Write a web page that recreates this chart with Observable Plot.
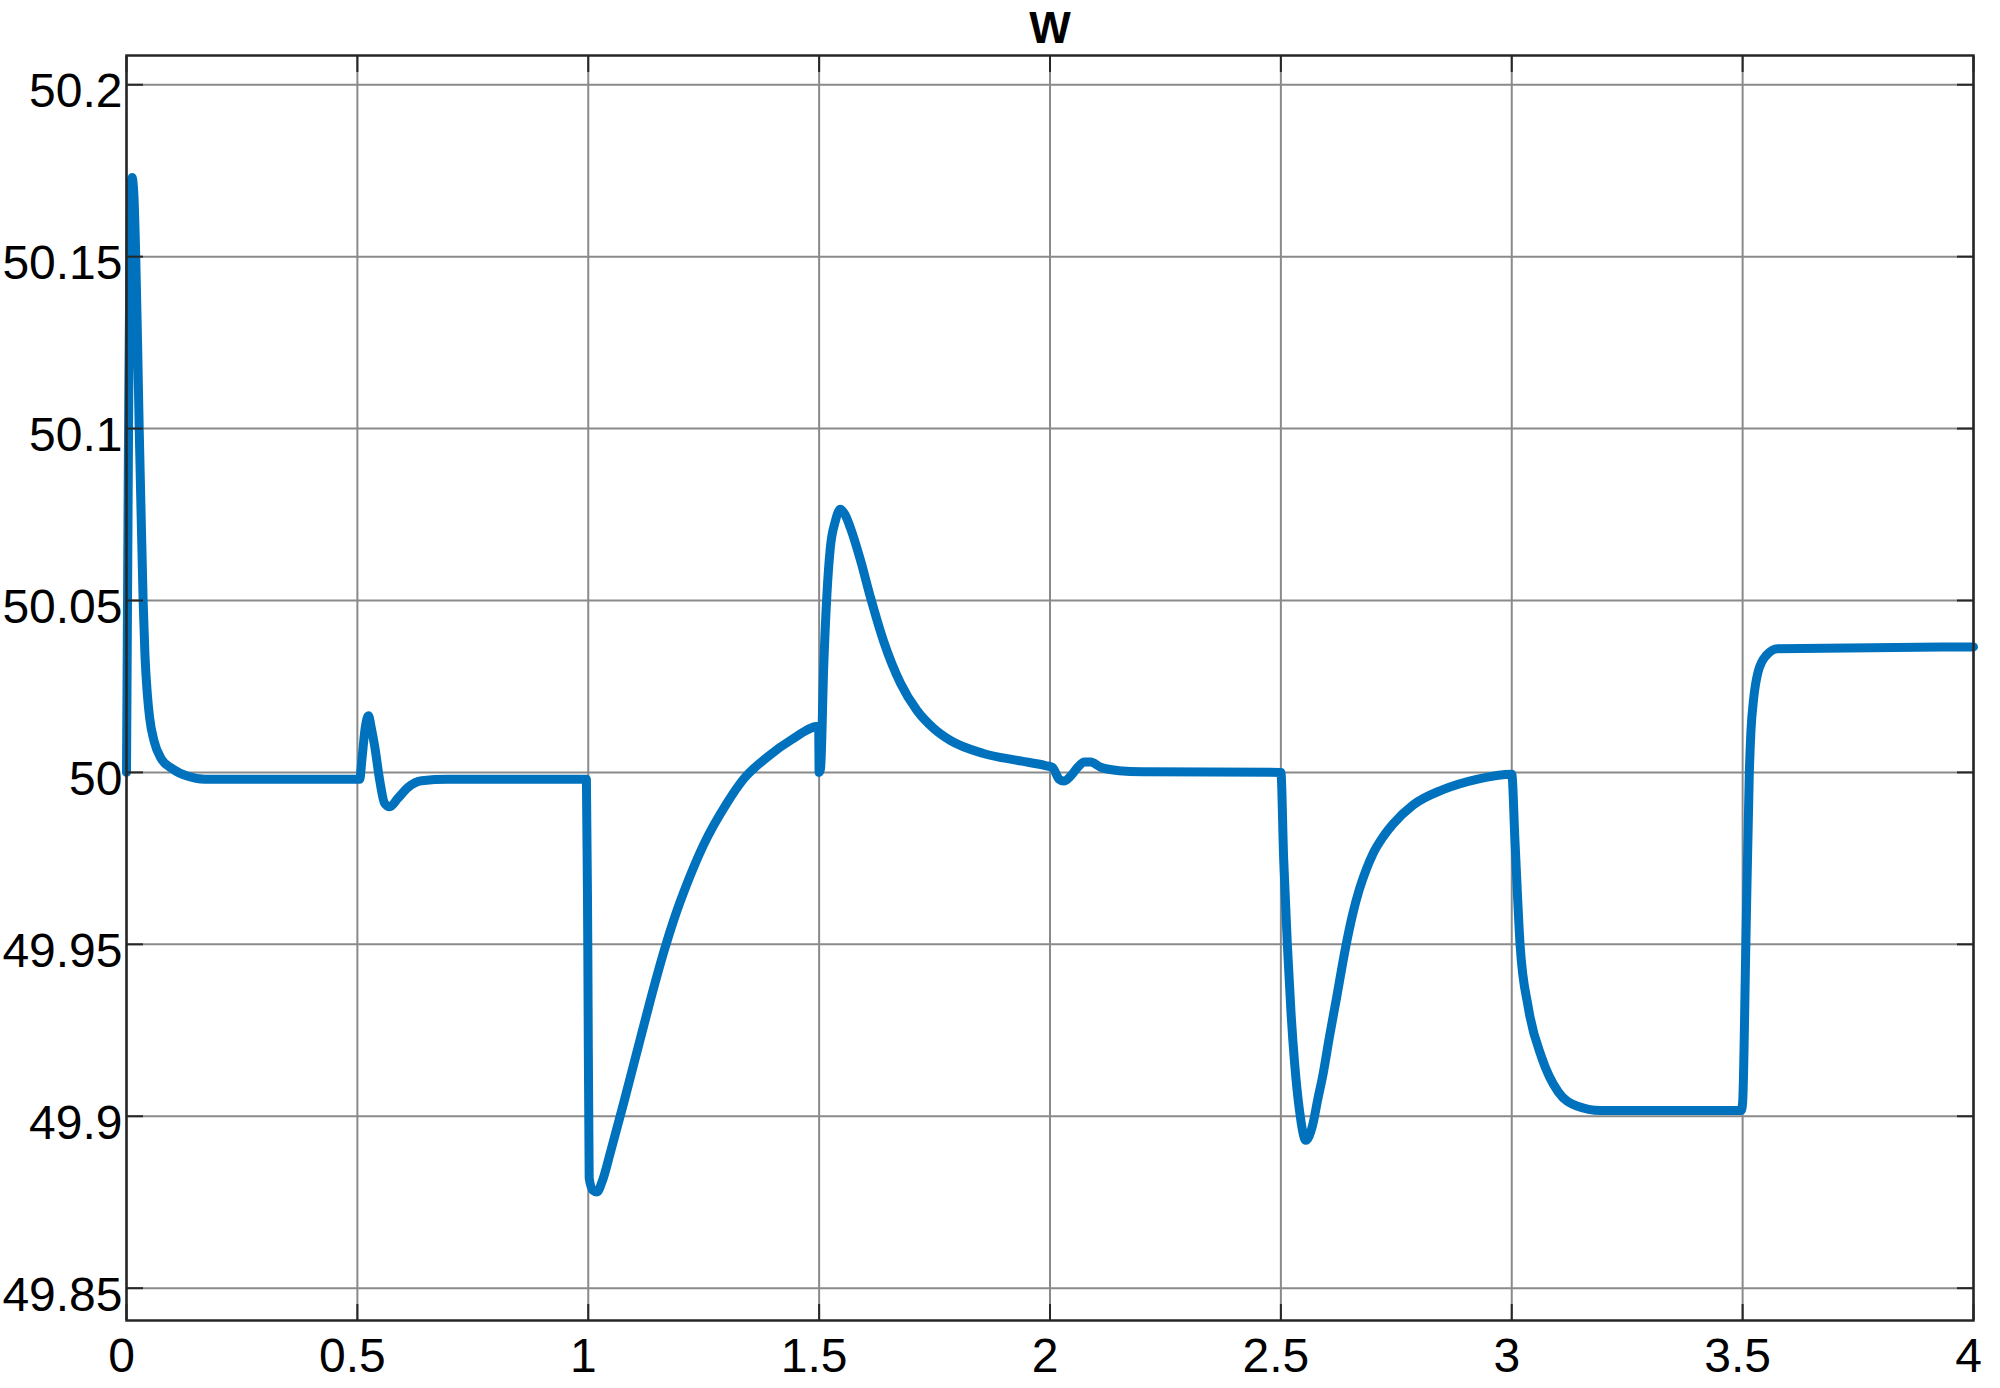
<!DOCTYPE html>
<html>
<head>
<meta charset="utf-8">
<script src="https://cdn.jsdelivr.net/npm/d3@7"></script>
<script src="https://cdn.jsdelivr.net/npm/@observablehq/plot@0.6"></script>
<style>
  html, body { margin: 0; padding: 0; background: #ffffff; }
  #chart svg { display: block; }
</style>
</head>
<body>
<div id="chart"></div>
<script>
const chartTitle = "W";
const xTicks = [0, 0.5, 1, 1.5, 2, 2.5, 3, 3.5, 4];
const yTicks = [49.85, 49.9, 49.95, 50, 50.05, 50.1, 50.15, 50.2];

const timeS = [
  0, 0.004, 0.008, 0.012, 0.016, 0.020, 0.024, 0.0275, 0.032, 0.036, 0.040, 0.045, 0.050, 0.060, 0.075, 0.100, 0.130, 0.170, 0.300,
  0.505, 0.510, 0.517, 0.524, 0.530, 0.5375, 0.548, 0.559, 0.570, 0.588, 0.610, 0.639, 0.696, 0.996,
  0.999, 1.002, 1.010, 1.019, 1.030, 1.048, 1.077, 1.106, 1.135, 1.164, 1.185, 1.215, 1.250, 1.300, 1.336, 1.388, 1.440, 1.499,
  1.500, 1.503, 1.510, 1.517, 1.524, 1.535, 1.546, 1.556, 1.568, 1.589, 1.611, 1.640, 1.676, 1.712, 1.748, 1.784, 1.856, 1.929, 1.990,
  2.005, 2.020, 2.030, 2.045, 2.060, 2.075, 2.088, 2.110, 2.150, 2.200, 2.500,
  2.506, 2.514, 2.522, 2.530, 2.540, 2.554, 2.568, 2.580, 2.591, 2.605, 2.620, 2.640, 2.655, 2.670, 2.685, 2.700, 2.720, 2.743, 2.786, 2.851, 2.924, 3.000,
  3.007, 3.018, 3.036, 3.065, 3.101, 3.141, 3.192, 3.497,
  3.500, 3.507, 3.5145, 3.518, 3.524, 3.533, 3.551, 3.576, 4.000
];
const freqHz = [
  50.000, 50.090, 50.160, 50.173, 50.168, 50.150, 50.125, 50.100, 50.073, 50.050, 50.034, 50.023, 50.016, 50.009, 50.004, 50.001, 49.999, 49.998, 49.998,
  49.998, 50.004, 50.013, 50.0165, 50.013, 50.0076, 49.998, 49.991, 49.990, 49.9925, 49.9957, 49.9976, 49.998, 49.998,
  49.950, 49.882, 49.8785, 49.878, 49.881, 49.8895, 49.904, 49.919, 49.934, 49.948, 49.957, 49.968, 49.979, 49.991, 49.998, 50.0045, 50.0095, 50.0134,
  50.000, 50.001, 50.031, 50.052, 50.065, 50.073, 50.0765, 50.075, 50.071, 50.062, 50.051, 50.038, 50.026, 50.018, 50.0128, 50.0093, 50.0055, 50.0035, 50.002,
  50.0015, 49.998, 49.9975, 49.999, 50.0015, 50.003, 50.003, 50.0015, 50.0005, 50.0002, 50.000,
  49.975, 49.950, 49.930, 49.915, 49.902, 49.893, 49.897, 49.905, 49.912, 49.923, 49.934, 49.949, 49.9585, 49.966, 49.9718, 49.9765, 49.981, 49.985, 49.9905, 49.995, 49.998, 49.9995,
  49.980, 49.950, 49.9315, 49.917, 49.907, 49.903, 49.9017, 49.9017,
  49.904, 49.950, 50.000, 50.012, 50.0216, 50.029, 50.034, 50.036, 50.0365
];

const series = timeS.map((t, i) => ({t, w: freqHz[i]}));
const gridColor = "#8a8a8a";
const axisColor = "#262626";
const fontStack = "'Liberation Sans', Arial, Helvetica, sans-serif";

const chart = Plot.plot({
  width: 2000,
  height: 1388,
  marginLeft: 126,
  marginRight: 27,
  marginTop: 55,
  marginBottom: 68,
  style: {background: "#ffffff", fontFamily: fontStack, color: "#000", overflow: "visible"},
  x: {domain: [0, 4]},
  y: {domain: [49.8406, 50.2085]},
  marks: [
    Plot.gridX(xTicks, {stroke: gridColor, strokeOpacity: 1, strokeWidth: 2}),
    Plot.gridY(yTicks, {stroke: gridColor, strokeOpacity: 1, strokeWidth: 2}),
    Plot.line(series, {x: "t", y: "w", curve: "monotone-x", stroke: "#0072BD", strokeWidth: 9, strokeLinejoin: "round", strokeLinecap: "round"}),
    Plot.axisX(xTicks, {anchor: "bottom", tickSize: -16, stroke: axisColor, strokeWidth: 2, tickFormat: () => "", label: null}),
    Plot.axisX(xTicks, {anchor: "top", tickSize: -16, stroke: axisColor, strokeWidth: 2, tickFormat: () => "", label: null}),
    Plot.axisY(yTicks, {anchor: "left", tickSize: -17, stroke: axisColor, strokeWidth: 2, tickFormat: () => "", label: null}),
    Plot.axisY(yTicks, {anchor: "right", tickSize: -17, stroke: axisColor, strokeWidth: 2, tickFormat: () => "", label: null}),
    Plot.axisX(xTicks, {anchor: "bottom", tickSize: 0, tickPadding: 17, fontSize: 48, dx: -5, tickFormat: d => String(d), label: null, fill: "#000"}),
    Plot.axisY(yTicks, {anchor: "left", tickSize: 0, tickPadding: 4, fontSize: 48, dy: 7, tickFormat: d => String(d), label: null, fill: "#000"}),
    Plot.frame({stroke: axisColor, strokeWidth: 2.5}),
    Plot.text([chartTitle], {text: d => d, frameAnchor: "top", dy: -27, fontSize: 44, fontWeight: "bold", lineAnchor: "middle", fill: "#000"})
  ]
});
document.getElementById("chart").appendChild(chart);
</script>
</body>
</html>
